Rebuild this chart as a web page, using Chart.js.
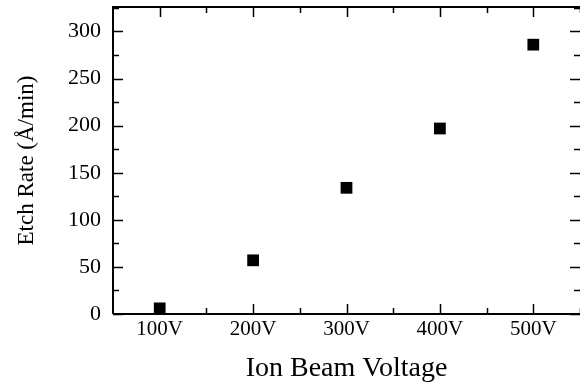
<!DOCTYPE html>
<html>
<head>
<meta charset="utf-8">
<script src="https://cdn.jsdelivr.net/npm/chart.js@4/dist/chart.umd.min.js"></script>
<style>
  html, body { margin: 0; padding: 0; background: #fff; }
  #wrap { width: 580px; height: 389px; }
</style>
</head>
<body>
<div id="wrap"><canvas id="chart"></canvas></div>
<script>
// ion beam voltage (V) and measured etch rate (A/min)
const voltages = [100, 200, 300, 400, 500];
const etchRates = [6, 57, 134, 197, 286];
const yTickValues = [0, 50, 100, 150, 200, 250, 300];
const xTickValues = [100, 200, 300, 400, 500];

const serif = "'Liberation Serif', 'Times New Roman', serif";

// draws the frame and inward ticks like the original plot
const frameTicks = {
  id: 'frameTicks',
  afterDraw(chart) {
    const { ctx, chartArea } = chart;
    const x = chart.scales.x;
    const y = chart.scales.y;
    const { left, right, top, bottom } = chartArea;
    ctx.save();
    ctx.strokeStyle = '#000';
    ctx.lineWidth = 2;
    ctx.beginPath();
    ctx.moveTo(left, bottom);
    ctx.lineTo(left, top);
    ctx.lineTo(right, top);
    ctx.moveTo(left, bottom);
    ctx.lineTo(right, bottom);
    ctx.stroke();

    ctx.lineWidth = 1.5;
    ctx.beginPath();
    for (let v = 0; v <= 325; v += 25) {
      const py = Math.round(y.getPixelForValue(v)) + 0.5;
      const len = v % 50 === 0 ? 10 : 6;
      ctx.moveTo(left, py);
      ctx.lineTo(left + len, py);
      ctx.moveTo(right, py);
      ctx.lineTo(right - len, py);
    }
    for (let v = 100; v <= 550; v += 50) {
      const px = Math.round(x.getPixelForValue(v)) + 0.5;
      const len = v % 100 === 0 ? 10 : 6;
      ctx.moveTo(px, bottom);
      ctx.lineTo(px, bottom - len);
      ctx.moveTo(px, top);
      ctx.lineTo(px, top + len);
    }
    ctx.stroke();
    ctx.restore();
  }
};

new Chart(document.getElementById('chart'), {
  type: 'scatter',
  plugins: [frameTicks],
  data: {
    datasets: [
      {
        data: voltages.map((v, i) => ({ x: v, y: etchRates[i] })),
        pointStyle: 'rect',
        pointRadius: 8.3,
        pointBorderWidth: 0,
        backgroundColor: '#000',
        borderColor: '#000',
      },
    ],
  },
  options: {
    responsive: true,
    maintainAspectRatio: false,
    animation: false,
    layout: { autoPadding: false, padding: { top: 7, right: -2, left: 0, bottom: 0 } },
    plugins: {
      legend: { display: false },
      tooltip: { enabled: false },
    },
    scales: {
      x: {
        type: 'linear',
        min: 50,
        max: 550,
        grid: { display: false, drawTicks: false },
        border: { display: false },
        afterBuildTicks: (scale) => {
          scale.ticks = xTickValues.map((v) => ({ value: v }));
        },
        afterFit: (scale) => {
          scale.height = 75;
          scale.paddingLeft = 0;
          scale.paddingRight = 0;
        },
        ticks: {
          color: '#000',
          padding: 3,
          maxRotation: 0,
          font: { family: serif, size: 21 },
          callback: (v) => v + 'V',
        },
        title: {
          display: true,
          text: 'Ion Beam Voltage',
          color: '#000',
          font: { family: serif, size: 28 },
          padding: { top: 0, bottom: 4 },
        },
      },
      y: {
        min: 0,
        max: 326,
        grid: { display: false, drawTicks: false },
        border: { display: false },
        afterBuildTicks: (scale) => {
          scale.ticks = yTickValues.map((v) => ({ value: v }));
        },
        afterFit: (scale) => {
          scale.width = 113;
          scale.paddingTop = 0;
          scale.paddingBottom = 0;
        },
        ticks: {
          color: '#000',
          padding: 12,
          font: { family: serif, size: 22 },
        },
        title: {
          display: true,
          text: 'Etch Rate (Å/min)',
          color: '#000',
          font: { family: serif, size: 23 },
          padding: { top: 13, bottom: 0 },
        },
      },
    },
  },
});
</script>
</body>
</html>
